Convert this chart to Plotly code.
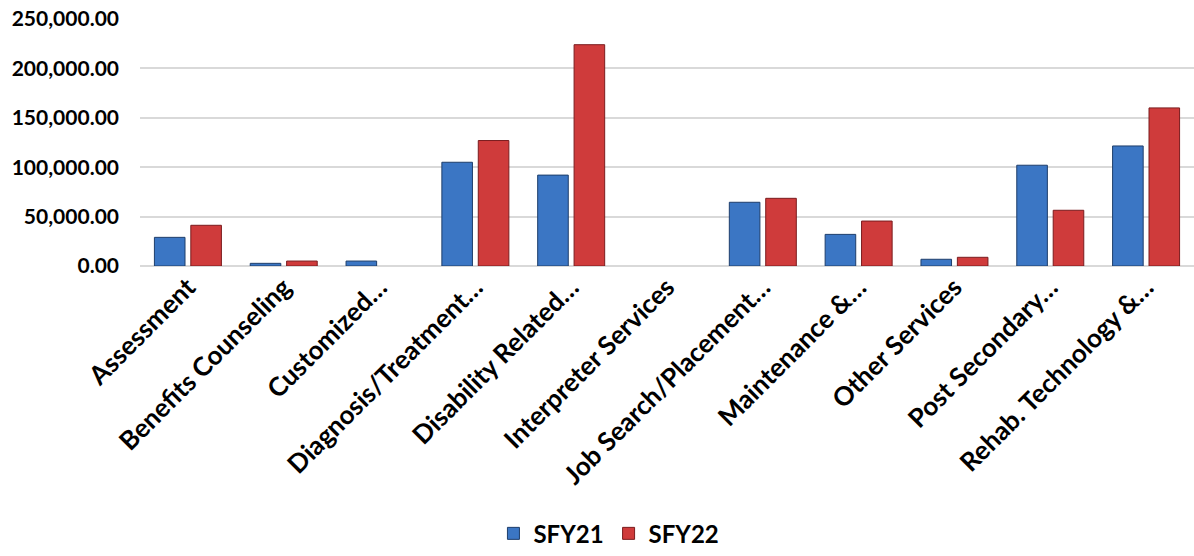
import plotly.graph_objects as go

categories = [
    "Assessment",
    "Benefits Counseling",
    "Customized…",
    "Diagnosis/Treatment…",
    "Disability Related…",
    "Interpreter Services",
    "Job Search/Placement…",
    "Maintenance &…",
    "Other Services",
    "Post Secondary…",
    "Rehab. Technology &…",
]
sfy21 = [29000, 2700, 5000, 105000, 92000, 0, 64500, 32000, 6800, 102000, 121500]
sfy22 = [41200, 5000, 0, 127000, 224000, 0, 68500, 45500, 8800, 56400, 160000]
y_ticks = [0, 50000, 100000, 150000, 200000, 250000]

FONT = "Lato, 'Open Sans', sans-serif"


def edge_widths(values):
    # no outline on empty bars so they don't leave a dark stroke on the baseline
    return [1 if v > 0 else 0 for v in values]


fig = go.Figure()
fig.add_trace(go.Bar(
    name="SFY21", x=categories, y=sfy21,
    marker=dict(color="#3B76C4",
                line=dict(color="#1E3E6B", width=edge_widths(sfy21))),
))
fig.add_trace(go.Bar(
    name="SFY22", x=categories, y=sfy22,
    marker=dict(color="#CF3B3B",
                line=dict(color="#7A1C1E", width=edge_widths(sfy22))),
))

fig.update_layout(
    width=1194, height=556,
    margin=dict(l=140, r=0, t=19, b=290),
    paper_bgcolor="white", plot_bgcolor="white",
    barmode="group", bargap=0.24, bargroupgap=0.16,
    font=dict(family=FONT, color="#000000"),
    showlegend=True,
    legend=dict(
        orientation="h", xref="container", yref="container",
        x=0.51, xanchor="center", y=0.04, yanchor="middle",
        font=dict(size=24, family=FONT, weight="bold"),
        itemwidth=30,
    ),
)
fig.update_yaxes(
    range=[0, 250000], tickvals=y_ticks, tickformat=",.2f",
    showgrid=True, gridcolor="#D9D9D9", gridwidth=2,
    zeroline=True, zerolinecolor="#D9D9D9", zerolinewidth=2,
    showline=False, ticks="", ticklabelstandoff=20,
    tickfont=dict(size=21, family=FONT, weight="bold"),
)
fig.update_xaxes(
    tickangle=-45, showline=False, ticks="", showgrid=False,
    automargin=False,
    tickfont=dict(size=26, family=FONT, weight="bold"),
)

fig.write_html("out.html")
